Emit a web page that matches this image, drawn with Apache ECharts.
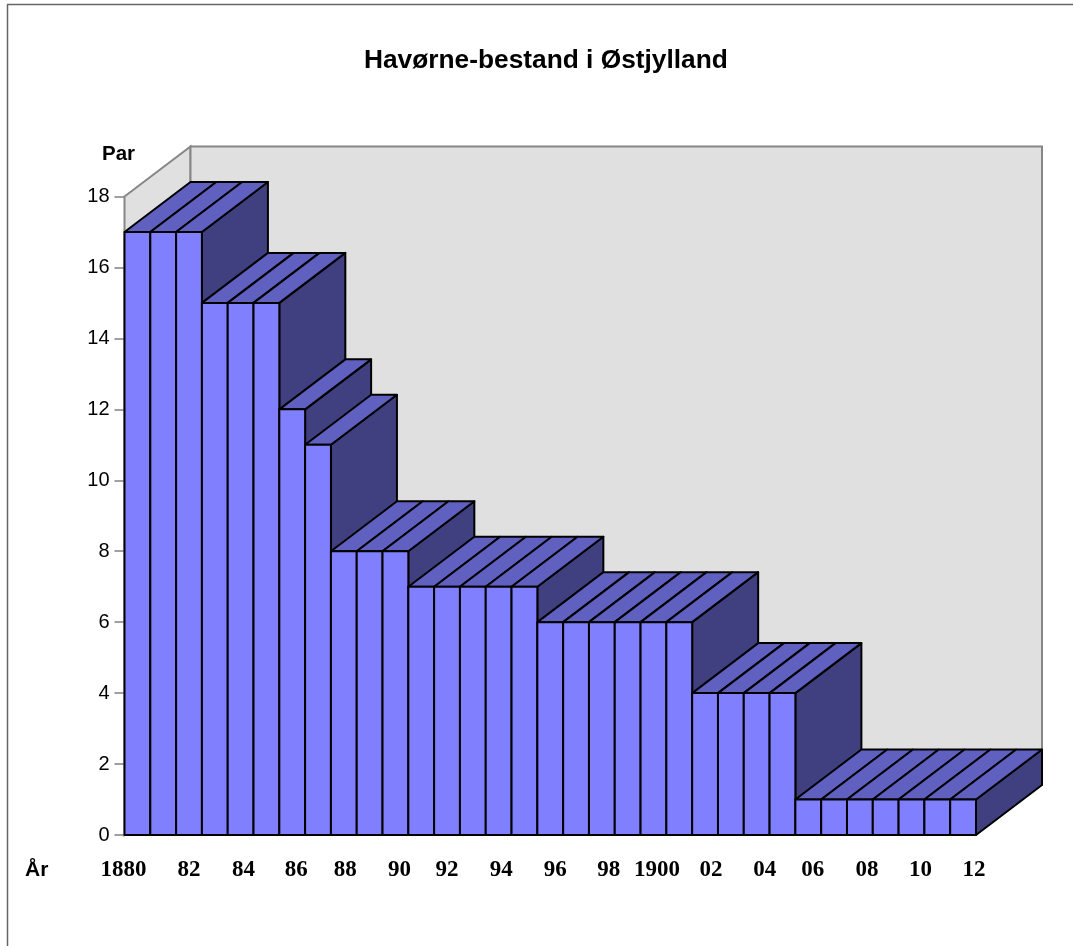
<!DOCTYPE html>
<html>
<head>
<meta charset="utf-8">
<title>Havørne-bestand i Østjylland</title>
<script src="https://cdn.jsdelivr.net/npm/echarts@6/dist/echarts.min.js"></script>
<style>
  html, body { margin: 0; padding: 0; background: #fff; }
  #chart { width: 1073px; height: 946px; }
</style>
</head>
<body>
<div id="chart"></div>
<script>
// one bar per year, 1880-1912
const tickLabels = ['1880', '', '82', '', '84', '', '86', '', '88', '', '90', '', '92', '', '94', '', '96',
  '', '98', '', '1900', '', '02', '', '04', '', '06', '', '08', '', '10', '', '12']
const pairs = [17, 17, 17, 15, 15, 15, 12, 11, 8, 8, 8, 7, 7, 7, 7, 7, 6, 6, 6, 6, 6, 6, 4, 4, 4, 4, 1, 1, 1, 1, 1, 1, 1]

// the original labels were placed by hand and drift away from the bar centres
const labelShift = [-14, 0, 0, 0, 3, 0, 4, 0, 1.5, 0, 4, 0, 0, 0, 2.5, 0, 5,
  0, 7, 0, 3.5, 0, 6, 0, 8, 0, 4.5, 0, 7, 0, 9, 0, 11]

// fake 3D depth, in pixels
const depthX = 66
const depthY = -50

const chart = echarts.init(document.getElementById('chart'), null, { renderer: 'canvas' })

const renderWalls = (params, api) => {
  const left = api.coord([0, 0])[0] - api.size([1, 0])[0] / 2
  const right = api.coord([pairs.length - 1, 0])[0] + api.size([1, 0])[0] / 2
  const bottom = api.coord([0, 0])[1]
  const top = api.coord([0, 18])[1]
  const wallStyle = { fill: '#e0e0e0', stroke: '#868686', lineWidth: 2, lineJoin: 'miter' }
  return {
    type: 'group',
    children: [
      {
        type: 'polygon',
        shape: { points: [[left, top], [left + depthX, top + depthY], [left + depthX, bottom + depthY], [left, bottom]] },
        style: wallStyle
      },
      {
        type: 'polygon',
        shape: { points: [[left + depthX, top + depthY], [right + depthX, top + depthY], [right + depthX, bottom + depthY], [left + depthX, bottom + depthY]] },
        style: wallStyle
      }
    ]
  }
}

const renderBar = (params, api) => {
  const i = api.value(0)
  const w = api.size([1, 0])[0]
  const x0 = api.coord([i, 0])[0] - w / 2
  const x1 = x0 + w
  const y0 = api.coord([i, 0])[1]
  const y1 = api.coord([i, api.value(1)])[1]
  const line = { stroke: '#000', lineWidth: 2, lineJoin: 'round' }
  const children = []

  // side face only where the next bar steps down
  if (i === pairs.length - 1 || pairs[i + 1] < pairs[i]) {
    children.push({
      type: 'polygon',
      shape: { points: [[x1, y1], [x1 + depthX, y1 + depthY], [x1 + depthX, y0 + depthY], [x1, y0]] },
      style: { fill: '#404080', ...line }
    })
  }
  children.push({
    type: 'polygon',
    shape: { points: [[x0, y1], [x1, y1], [x1 + depthX, y1 + depthY], [x0 + depthX, y1 + depthY]] },
    style: { fill: '#6060c0', ...line }
  })
  children.push({
    type: 'rect',
    shape: { x: x0, y: y1, width: w, height: y0 - y1 },
    style: { fill: '#8080ff', ...line }
  })
  return { type: 'group', children }
}

const option = {
  backgroundColor: '#fff',
  animation: false,
  title: {
    text: 'Havørne-bestand i Østjylland',
    left: 359,
    top: 43,
    textStyle: { fontFamily: 'Liberation Sans', fontSize: 26.3, fontWeight: 'bold', color: '#000' }
  },
  grid: { left: 124.5, top: 196.5, width: 851.5, height: 638.5 },
  xAxis: {
    type: 'category',
    data: tickLabels.map((label, i) => {
      const shift = labelShift[i]
      return {
        value: label,
        textStyle: { padding: shift >= 0 ? [0, 0, 0, shift * 2] : [0, -shift * 2, 0, 0] }
      }
    }),
    axisLine: { show: false },
    axisTick: { show: false },
    axisLabel: {
      interval: 0,
      margin: 24,
      hideOverlap: false,
      fontFamily: 'Liberation Serif',
      fontWeight: 'bold',
      fontSize: 23,
      color: '#000'
    }
  },
  yAxis: {
    type: 'value',
    min: 0,
    max: 18,
    interval: 2,
    splitLine: { show: false },
    axisLine: { show: false },
    axisTick: { show: true, length: 10, lineStyle: { color: '#808080', width: 1.5 } },
    axisLabel: { margin: 15, fontFamily: 'Liberation Sans', fontSize: 20, color: '#000' }
  },
  graphic: [
    { type: 'line', silent: true, shape: { x1: 7.5, y1: 4.5, x2: 7.5, y2: 946 }, style: { stroke: '#666', lineWidth: 1.5 } },
    { type: 'line', silent: true, shape: { x1: 7, y1: 4.5, x2: 1073, y2: 4.5 }, style: { stroke: '#666', lineWidth: 1.5 } },
    { type: 'text', left: 102, top: 144, style: { text: 'Par', font: 'bold 20.5px "Liberation Sans"', fill: '#000' } },
    { type: 'text', left: 25, top: 860, style: { text: 'År', font: 'bold 21px "Liberation Sans"', fill: '#000' } }
  ],
  series: [
    {
      type: 'custom',
      coordinateSystem: 'cartesian2d',
      renderItem: renderWalls,
      data: [[0, 0]],
      silent: true,
      z: 1
    },
    {
      type: 'custom',
      coordinateSystem: 'cartesian2d',
      renderItem: renderBar,
      data: pairs.map((v, i) => [i, v]),
      encode: { x: 0, y: 1 },
      z: 2
    }
  ]
}

chart.setOption(option)
</script>
</body>
</html>
